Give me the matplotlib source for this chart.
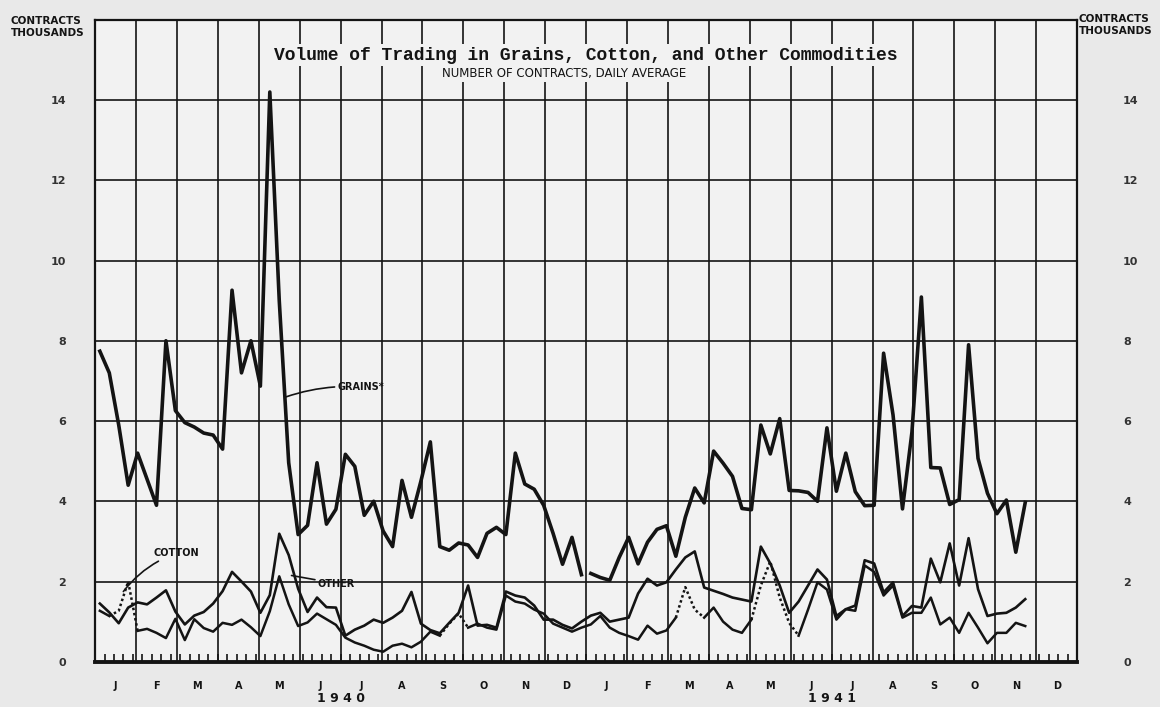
import numpy as np
import matplotlib.pyplot as plt

# weekly daily-average volume, thousands of contracts
grains_1940 = [7.74, 7.2, 5.9, 4.4, 5.2, 4.55, 3.9, 8.0, 6.26, 5.96, 5.85, 5.7, 5.65,
               5.3, 9.26, 7.2, 8.0, 6.87, 14.2, 9.0, 4.96, 3.17, 3.4, 4.96, 3.43, 3.8,
               5.17, 4.87, 3.65, 4.0, 3.26, 2.87, 4.52, 3.6, 4.5, 5.48, 2.87, 2.78, 2.96,
               2.91, 2.6, 3.2, 3.35, 3.17, 5.2, 4.43, 4.3, 3.9, 3.2, 2.43, 3.1, 2.17]
grains_1941 = [2.2, 2.1, 2.03, 2.6, 3.1, 2.44, 2.98, 3.3, 3.39, 2.63, 3.6, 4.33, 3.96,
               5.25, 4.95, 4.62, 3.82, 3.79, 5.9, 5.18, 6.06, 4.27, 4.26, 4.22, 4.0, 5.83,
               4.25, 5.2, 4.24, 3.89, 3.9, 7.69, 6.15, 3.81, 5.72, 9.09, 4.84, 4.83, 3.92,
               4.04, 7.9, 5.07, 4.2, 3.69, 4.03, 2.73, 3.97]
other_1940 = [1.45, 1.23, 0.96, 1.35, 1.48, 1.43, 1.6, 1.78, 1.25, 0.93, 1.15, 1.24, 1.45,
              1.76, 2.24, 2.0, 1.75, 1.22, 1.66, 3.19, 2.66, 1.82, 1.24, 1.6, 1.36, 1.35,
              0.65, 0.8, 0.9, 1.05, 0.97, 1.1, 1.27, 1.74, 0.95, 0.79, 0.71, 0.97, 1.22,
              1.9, 0.9, 0.92, 0.85, 1.75, 1.65, 1.6, 1.4, 1.05, 1.05, 0.92, 0.83, 1.0]
other_1941 = [1.15, 1.22, 1.0, 1.05, 1.1, 1.7, 2.07, 1.9, 1.98, 2.3, 2.6, 2.75, 1.85,
              1.77, 1.69, 1.6, 1.55, 1.5, 2.87, 2.45, 1.9, 1.22, 1.5, 1.9, 2.3, 2.05,
              1.14, 1.31, 1.4, 2.53, 2.45, 1.73, 1.98, 1.14, 1.39, 1.35, 2.57, 1.98, 2.95,
              1.9, 3.08, 1.81, 1.14, 1.2, 1.22, 1.35, 1.56]
cotton_1940 = [1.27, 1.14, 1.27, 2.0, 0.77, 0.82, 0.72, 0.59, 1.07, 0.54, 1.06, 0.84, 0.75,
               0.97, 0.92, 1.05, 0.86, 0.64, 1.26, 2.13, 1.43, 0.89, 0.98, 1.2, 1.06, 0.92,
               0.6, 0.48, 0.4, 0.3, 0.25, 0.4, 0.45, 0.36, 0.5, 0.75, 0.65, 0.95, 1.2,
               0.85, 0.95, 0.85, 0.8, 1.65, 1.5, 1.45, 1.3, 1.2, 0.95, 0.85, 0.75, 0.85]
cotton_1941 = [0.93, 1.14, 0.85, 0.72, 0.64, 0.55, 0.9, 0.7, 0.78, 1.1, 1.86, 1.3, 1.1,
               1.35, 1.0, 0.8, 0.72, 1.05, 1.9, 2.5, 1.6, 0.97, 0.65, 1.3, 1.98, 1.8,
               1.05, 1.31, 1.27, 2.4, 2.24, 1.65, 1.9, 1.1, 1.22, 1.22, 1.6, 0.93, 1.1,
               0.72, 1.22, 0.85, 0.46, 0.72, 0.72, 0.97, 0.89]

months = ['J', 'F', 'M', 'A', 'M', 'J', 'J', 'A', 'S', 'O', 'N', 'D'] * 2
years = ['1 9 4 0', '1 9 4 1']
y_ticks = [0, 2, 4, 6, 8, 10, 12, 14]

# stretches of the cotton line that the draftsman drew as dots (week index, both years)
cotton_dotted = [(1, 4), (36, 39), (61, 64), (69, 74)]

ink = '#141414'
paper = '#f2f2f2'


def week_x(n, year):
    # weekly points, x measured in months from Jan 1940
    return year * 12 + (np.arange(n) + 0.5) * 12 / 52


fig = plt.figure(figsize=(11.6, 7.07), dpi=100, facecolor='#e9e9e9')
ax = fig.add_axes([0.082, 0.064, 0.8466, 0.908])
ax.set_facecolor(paper)
ax.set_xlim(0, 24)
ax.set_ylim(0, 16)

# ruled chart paper
ax.vlines(np.arange(1, 24), 0, 16, color=ink, lw=1.2, zorder=1)
ax.hlines(y_ticks[1:], 0, 24, color=ink, lw=1.2, zorder=1)

ax.plot(week_x(len(grains_1940), 0), grains_1940, color=ink, lw=2.6, zorder=3)
ax.plot(week_x(len(grains_1941), 1), grains_1941, color=ink, lw=2.6, zorder=3)

ox = np.concatenate([week_x(len(other_1940), 0), week_x(len(other_1941), 1)])
ax.plot(ox, other_1940 + other_1941, color=ink, lw=1.9, zorder=3)

cx = np.concatenate([week_x(len(cotton_1940), 0), week_x(len(cotton_1941), 1)])
cy = np.array(cotton_1940 + cotton_1941)
dotted = np.zeros(len(cx) - 1, bool)
for a, b in cotton_dotted:
    dotted[a:b] = True
start = 0
for k in range(1, len(dotted) + 1):
    if k == len(dotted) or dotted[k] != dotted[start]:
        ls = (0, (1, 1.1)) if dotted[start] else '-'
        ax.plot(cx[start:k + 1], cy[start:k + 1], color=ink, lw=1.8, ls=ls, zorder=3)
        start = k

# axes and ticks
for s in ax.spines.values():
    s.set_linewidth(1.6)
    s.set_color(ink)
ax.spines['bottom'].set_linewidth(2.8)

ax.set_xticks(np.arange(24) + 0.5)
ax.set_xticklabels(months, fontsize=7, fontweight='bold', color=ink)
ax.tick_params(axis='x', which='major', length=0, pad=14)
ax.set_xticks(np.arange(104) * 12 / 52, minor=True)
ax.tick_params(axis='x', which='minor', direction='in', length=6, width=1.2, color=ink)

ax.set_yticks(y_ticks)
ax.set_yticklabels([str(v) for v in y_ticks], fontsize=8, fontweight='bold', color='#333')
ax.tick_params(axis='y', length=0, pad=21)

ax2 = ax.twinx()
ax2.set_ylim(0, 16)
ax2.set_yticks(y_ticks)
ax2.set_yticklabels([str(v) for v in y_ticks], fontsize=8, fontweight='bold', color='#333')
ax2.tick_params(axis='y', length=0, pad=33)
for s in ax2.spines.values():
    s.set_visible(False)

for i, yr in enumerate(years):
    ax.text(6 + 12 * i, -0.057, yr, transform=ax.get_xaxis_transform(), ha='center',
            va='center', fontsize=9, fontweight='bold', color=ink)

# titles sit on a blank patch of the ruled paper
ax.text(0.5, 0.945, 'Volume of Trading in Grains, Cotton, and Other Commodities',
        transform=ax.transAxes, ha='center', va='center', family='Liberation Mono',
        fontweight='bold', fontsize=13, color=ink,
        bbox=dict(fc=paper, ec='none', pad=2))
ax.text(0.478, 0.917, 'NUMBER OF CONTRACTS, DAILY AVERAGE', transform=ax.transAxes,
        ha='center', va='center', fontsize=8.5, color=ink,
        bbox=dict(fc=paper, ec='none', pad=1.5))

fig.text(0.009, 0.962, 'CONTRACTS\nTHOUSANDS', fontsize=7.5, fontweight='bold',
         ha='left', va='center', linespacing=1.3, color=ink)
fig.text(0.93, 0.965, 'CONTRACTS\nTHOUSANDS', fontsize=7.5, fontweight='bold',
         ha='left', va='center', linespacing=1.3, color=ink)

line_lbl = dict(arrowstyle='-', color=ink, lw=1.2, shrinkA=0, shrinkB=0)
ax.annotate('GRAINS*', xy=(4.66, 6.6), xytext=(5.92, 6.85), fontsize=7, fontweight='bold',
            va='center', color=ink,
            arrowprops=dict(line_lbl, connectionstyle='arc3,rad=0.1'))
ax.annotate('COTTON', xy=(0.69, 1.75), xytext=(1.42, 2.7), fontsize=7, fontweight='bold',
            va='center', color=ink,
            arrowprops=dict(line_lbl, connectionstyle='arc3,rad=0.15'))
ax.annotate('OTHER', xy=(4.8, 2.15), xytext=(5.44, 1.95), fontsize=7, fontweight='bold',
            va='center', color=ink, arrowprops=dict(line_lbl))

fig.savefig('out.png', dpi=100, facecolor=fig.get_facecolor())
